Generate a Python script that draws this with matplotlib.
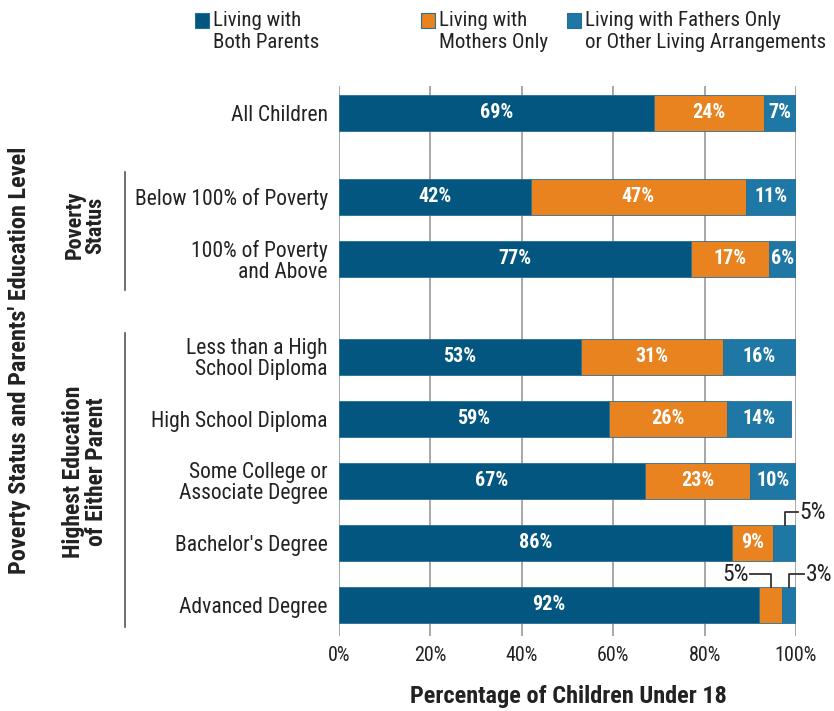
import matplotlib
matplotlib.use("Agg")
import matplotlib.pyplot as plt
from matplotlib.patches import Rectangle
from matplotlib.lines import Line2D

plt.rcParams['font.family'] = ['Roboto Condensed', 'DejaVu Sans']

categories = ["All Children", "Below 100% of Poverty", "100% of Poverty\nand Above",
              "Less than a High\nSchool Diploma", "High School Diploma",
              "Some College or\nAssociate Degree", "Bachelor's Degree", "Advanced Degree"]
both_parents = [69, 42, 77, 53, 59, 67, 86, 92]
mothers_only = [24, 47, 17, 31, 26, 23, 9, 5]
fathers_other = [7, 11, 6, 16, 14, 10, 5, 3]
series_names = ["Living with\nBoth Parents", "Living with\nMothers Only",
                "Living with Fathers Only\nor Other Living Arrangements"]
xticks = [0, 20, 40, 60, 80, 100]
xtick_labels = ["0%", "20%", "40%", "60%", "80%", "100%"]

colors = ["#02567F", "#E8831F", "#1F77A5"]
ypos = [0, 1.355, 2.355, 3.935, 4.935, 5.935, 6.935, 7.935]
bar_h = 0.575
TXT = "#222222"

fig = plt.figure(figsize=(8.34, 7.11), dpi=100)
W, H = 834, 711
ax = fig.add_axes([339 / W, 1 - 636 / H, (796 - 339) / W, (636 - 86) / H])
ax.set_xlim(0, 100)
ax.set_ylim(8.435, -0.435)

for x in xticks:
    ax.axvline(x, color="#A0A0A0", lw=1.3, zorder=0)

series = [both_parents, mothers_only, fathers_other]
lefts = [0] * len(categories)
for s, vals in enumerate(series):
    ax.barh(ypos, vals, left=lefts, height=bar_h, color=colors[s],
            edgecolor="#2A6E96", linewidth=0.6, zorder=2)
    for i, v in enumerate(vals):
        if v >= 6:
            ax.text(lefts[i] + v / 2, ypos[i], f"{v}%", ha="center", va="center",
                    color="white", fontsize=14.5, fontweight="bold", zorder=3)
    lefts = [l + v for l, v in zip(lefts, vals)]


def leader(i, seg_left, seg_val, text_x, side):
    cx = seg_left + seg_val / 2
    top = ypos[i] - bar_h / 2
    ly = top - 0.21
    ax.plot([cx, cx, text_x], [top, ly, ly], color="#333333", lw=1.3,
            clip_on=False, zorder=3)
    ax.text(text_x + (0.3 if side == "right" else -0.3), ly, f"{seg_val}%",
            ha="left" if side == "right" else "right", va="center",
            fontsize=17, color=TXT, clip_on=False)

i = 6
leader(i, both_parents[i] + mothers_only[i], fathers_other[i], 100.5, "right")
i = 7
leader(i, both_parents[i], mothers_only[i], 90.0, "left")
leader(i, both_parents[i] + mothers_only[i], fathers_other[i], 101.8, "right")

ax.set_xticks(xticks)
ax.set_xticklabels(xtick_labels, fontsize=14.5, color=TXT)
ax.tick_params(axis="x", length=0, pad=7)
ax.set_yticks(ypos)
ax.set_yticklabels(categories, fontsize=15.5, color=TXT, linespacing=0.98)
ax.tick_params(axis="y", length=0, pad=8)
for sp in ax.spines.values():
    sp.set_visible(False)


def fx(px):
    return px / W


def fy(py):
    return 1 - py / H


fig.text(fx(568), fy(697), "Percentage of Children Under 18", ha="center", va="center",
         fontsize=17.5, fontweight="bold", color=TXT)

fig.add_artist(Line2D([fx(125), fx(125)], [fy(172), fy(290)], color="#555555", lw=1.2))
fig.add_artist(Line2D([fx(125), fx(125)], [fy(333), fy(627)], color="#555555", lw=1.2))
fig.text(fx(85), fy(225), "Poverty\nStatus", rotation=90, ha="center", va="center",
         fontsize=16, fontweight="bold", color=TXT, linespacing=0.95)
fig.text(fx(85), fy(472), "Highest Education\nof Either Parent", rotation=90,
         ha="center", va="center", fontsize=17, fontweight="bold", color=TXT,
         linespacing=0.95)
fig.text(fx(20), fy(360), "Poverty Status and Parents' Education Level", rotation=90,
         ha="center", va="center", fontsize=17.5, fontweight="bold", color=TXT)

leg_x = [195, 421, 567]
for k in range(3):
    fig.add_artist(Rectangle((fx(leg_x[k]), fy(28)), 14 / W, 15 / H,
                             facecolor=colors[k], edgecolor="#2A6E96", lw=0.8,
                             transform=fig.transFigure))
    fig.text(fx(leg_x[k] + 18), fy(11), series_names[k], ha="left", va="top",
             fontsize=15, color=TXT, linespacing=1.2)

fig.savefig("out.png", dpi=100)
